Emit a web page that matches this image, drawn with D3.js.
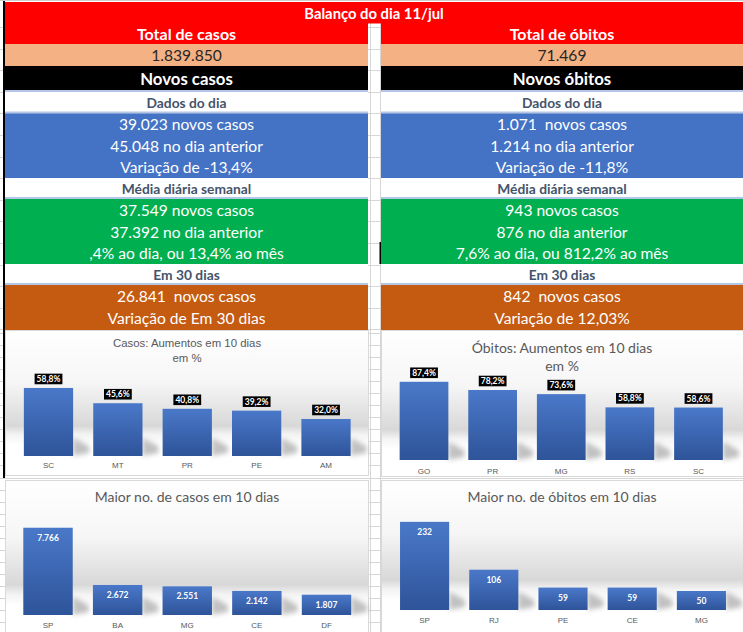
<!DOCTYPE html>
<html>
<head>
<meta charset="utf-8">
<script src="https://cdn.jsdelivr.net/npm/d3@7"></script>
<style>
  body { margin: 0; background: #fff; }
  svg { display: block; }
</style>
</head>
<body>
<svg id="chart"></svg>
<script>
// ---- data ----
const reportTitle = 'Balanço do dia 11/jul'
const totalLabels = ['Total de casos', 'Total de óbitos']
const totalValues = ['1.839.850', '71.469']
const newLabels = ['Novos casos', 'Novos óbitos']
const sectionNames = ['Dados do dia', 'Média diária semanal', 'Em 30 dias']
const dailyLines = [
  ['39.023 novos casos', '45.048 no dia anterior', 'Variação de -13,4%'],
  ['1.071  novos casos', '1.214 no dia anterior', 'Variação de -11,8%']
]
const weeklyLines = [
  ['37.549 novos casos', '37.392 no dia anterior', ',4% ao dia, ou 13,4% ao mês'],
  ['943 novos casos', '876 no dia anterior', '7,6% ao dia, ou 812,2% ao mês']
]
const monthLines = [
  ['26.841  novos casos', 'Variação de Em 30 dias'],
  ['842  novos casos', 'Variação de 12,03%']
]

const pctCasesStates = ['SC', 'MT', 'PR', 'PE', 'AM']
const pctCasesValues = [58.8, 45.6, 40.8, 39.2, 32.0]
const pctDeathsStates = ['GO', 'PR', 'MG', 'RS', 'SC']
const pctDeathsValues = [87.4, 78.2, 73.6, 58.8, 58.6]
const topCasesStates = ['SP', 'BA', 'MG', 'CE', 'DF']
const topCasesValues = [7766, 2672, 2551, 2142, 1807]
const topDeathsStates = ['SP', 'RJ', 'PE', 'CE', 'MG']
const topDeathsValues = [232, 106, 59, 59, 50]

// ---- setup ----
const W = 743
const H = 632
const FONT = 'Lato, "Open Sans", sans-serif'
const ptBR = d3.formatLocale({ decimal: ',', thousands: '.', grouping: [3], currency: ['R$', ''] })
const fmtPct = v => `${ptBR.format('.1f')(v)}%`
const fmtInt = ptBR.format(',d')

const svg = d3.select('#chart').attr('width', W).attr('height', H)
const defs = svg.append('defs')

// spreadsheet grid behind everything
const gridRows = d3.range(-5, 10).map(k => 135 + 21.6 * k).filter(y => y > 0 && y < 330)
  .concat(d3.range(-2, 24).map(k => 357 + 12.05 * k).filter(y => y > 330 && y < H))
const grid = svg.append('g').attr('stroke', '#d6d6d6').attr('stroke-width', 1)
grid.selectAll('line.h')
  .data(gridRows)
  .join('line')
  .attr('class', 'h')
  .attr('x1', 0).attr('x2', W)
  .attr('y1', d => Math.round(d) + 0.5).attr('y2', d => Math.round(d) + 0.5)
grid.selectAll('line.v')
  .data([370.5, 380.5])
  .join('line')
  .attr('class', 'v')
  .attr('x1', d => d).attr('x2', d => d)
  .attr('y1', 23).attr('y2', H)

// ---- table ----
const COLS = [{ x0: 5, x1: 368 }, { x0: 381, x1: 743 }]
const SEP = '#b4c6e7'

const bands = [
  { y0: 23, y1: 44, fill: '#ff0000' },
  { y0: 44, y1: 66, fill: '#f4b183' },
  { y0: 66, y1: 90, fill: '#000000' },
  { y0: 90, y1: 92, fill: SEP },
  { y0: 92, y1: 111.5, fill: '#ffffff' },
  { y0: 111.5, y1: 113.5, fill: SEP },
  { y0: 113.5, y1: 178, fill: '#4472c4' },
  { y0: 178, y1: 197, fill: '#ffffff' },
  { y0: 197, y1: 199, fill: SEP },
  { y0: 199, y1: 264, fill: '#00b050' },
  { y0: 264, y1: 283, fill: '#ffffff' },
  { y0: 283, y1: 285, fill: SEP },
  { y0: 285, y1: 330, fill: '#c55a11' }
]

const table = svg.append('g')
table.append('rect')
  .attr('x', 5).attr('y', 2).attr('width', W - 5).attr('height', 21.5)
  .attr('fill', '#ff0000')

table.selectAll('rect.band')
  .data(COLS.flatMap(c => bands.map(b => ({ ...b, c }))))
  .join('rect')
  .attr('class', 'band')
  .attr('x', d => d.c.x0)
  .attr('y', d => d.y0)
  .attr('width', d => d.c.x1 - d.c.x0)
  .attr('height', d => d.y1 - d.y0)
  .attr('fill', d => d.fill)

// left border + small black tick in the green block
table.append('rect').attr('x', 3).attr('y', 0).attr('width', 2).attr('height', 478).attr('fill', '#000')
table.append('rect').attr('x', 379.5).attr('y', 242).attr('width', 1.5).attr('height', 22).attr('fill', '#000')
svg.append('line').attr('x1', 0).attr('x2', W).attr('y1', 0.5).attr('y2', 0.5).attr('stroke', '#cfcfcf')

const texts = [{ x: 374, y: 12.5, t: reportTitle, size: 14.8, weight: 700, fill: '#fff' }]
COLS.forEach((c, i) => {
  const cx = (c.x0 + c.x1) / 2
  const white = (t, y) => ({ x: cx, y, t, size: 15.6, weight: 400, fill: '#fff' })
  const sect = (t, y) => ({ x: cx, y, t, size: 13.8, weight: 700, fill: '#44546a' })
  texts.push({ x: cx, y: 33.5, t: totalLabels[i], size: 16, weight: 700, fill: '#fff' })
  texts.push({ x: cx, y: 55, t: totalValues[i], size: 15.6, weight: 400, fill: '#262626' })
  texts.push({ x: cx, y: 78, t: newLabels[i], size: 16.8, weight: 700, fill: '#fff' })
  texts.push(sect(sectionNames[0], 102))
  texts.push(sect(sectionNames[1], 188.5))
  texts.push(sect(sectionNames[2], 274.5))
  dailyLines[i].forEach((t, k) => texts.push(white(t, 124 + k * 21.6)))
  weeklyLines[i].forEach((t, k) => texts.push(white(t, 210 + k * 21.7)))
  monthLines[i].forEach((t, k) => texts.push(white(t, 296 + k * 21.6)))
})

table.selectAll('text')
  .data(texts)
  .join('text')
  .attr('x', d => d.x)
  .attr('y', d => d.y)
  .attr('text-anchor', 'middle')
  .attr('dominant-baseline', 'central')
  .attr('font-family', FONT)
  .attr('font-size', d => d.size)
  .attr('font-weight', d => d.weight)
  .attr('fill', d => d.fill)
  .style('white-space', 'pre')
  .text(d => d.t)

// ---- charts ----
const barGrad = defs.append('linearGradient').attr('id', 'barFill').attr('x1', 0).attr('y1', 0).attr('x2', 0).attr('y2', 1)
barGrad.append('stop').attr('offset', '0%').attr('stop-color', '#4a78c9')
barGrad.append('stop').attr('offset', '100%').attr('stop-color', '#2e5499')

defs.append('filter').attr('id', 'soft').attr('x', '-50%').attr('y', '-50%').attr('width', '200%').attr('height', '200%')
  .append('feGaussianBlur').attr('stdDeviation', 2.8)

const charts = [
  {
    id: 'c1', states: pctCasesStates, values: pctCasesValues, box: [5, 330, 369, 476],
    title: ['Casos: Aumentos em 10 dias', 'em %'], titleY: [343, 358],
    titleFont: '"Liberation Sans", Arial, sans-serif', titleSize: 11.4,
    xRange: [13.8, 360.7], yDomain: [0, 70], yRange: [456, 375],
    fmt: fmtPct, boxed: true, tickPad: 6.3
  },
  {
    id: 'c2', states: pctDeathsStates, values: pctDeathsValues, box: [381, 330, 750, 477],
    title: ['Óbitos: Aumentos em 10 dias', 'em %'], titleY: [347, 365],
    titleFont: FONT, titleSize: 14,
    xRange: [389.7, 732.8], yDomain: [0, 100], yRange: [460, 370.5],
    fmt: fmtPct, boxed: true, tickPad: 8.3
  },
  {
    id: 'c3', states: topCasesStates, values: topCasesValues, box: [5, 480, 369, 640],
    title: ['Maior no. de casos em 10 dias'], titleY: [496],
    titleFont: FONT, titleSize: 14,
    xRange: [13.2, 361.3], yDomain: [0, 8000], yRange: [615, 525.1],
    fmt: fmtInt, boxed: false, tickPad: 7.3
  },
  {
    id: 'c4', states: topDeathsStates, values: topDeathsValues, box: [381, 480, 750, 640],
    title: ['Maior no. de óbitos em 10 dias'], titleY: [496],
    titleFont: FONT, titleSize: 14,
    xRange: [390, 736], yDomain: [0, 250], yRange: [610, 515],
    fmt: fmtInt, boxed: false, tickPad: 7.3
  }
]

charts.forEach(cfg => {
  const [bx0, by0, bx1, by1] = cfg.box
  const base = cfg.yRange[0]
  const peak = (base - 30 - by0) / (by1 - by0)

  const bg = defs.append('linearGradient').attr('id', `bg-${cfg.id}`)
    .attr('x1', 0).attr('y1', 0).attr('x2', 0).attr('y2', 1)
  ;[[0, '#ffffff'], [peak - 0.3, '#f6f6f6'], [peak, '#d8d8d8'], [peak + 0.06, '#f3f3f3'], [peak + 0.13, '#ffffff'], [1, '#ffffff']]
    .forEach(([o, c]) => bg.append('stop').attr('offset', o).attr('stop-color', c))

  const g = svg.append('g')
  g.append('rect')
    .attr('x', bx0 + 0.5).attr('y', by0 + 0.5)
    .attr('width', bx1 - bx0 - 1).attr('height', by1 - by0 - 1)
    .attr('fill', `url(#bg-${cfg.id})`)
    .attr('stroke', '#d9d9d9')

  const data = cfg.states.map((s, i) => ({ s, v: cfg.values[i] }))
  const x = d3.scaleBand().domain(cfg.states).range(cfg.xRange).paddingInner(0.29).paddingOuter(0.145)
  const y = d3.scaleLinear().domain(cfg.yDomain).range(cfg.yRange)

  g.selectAll('text.title')
    .data(cfg.title)
    .join('text')
    .attr('class', 'title')
    .attr('x', (bx0 + Math.min(bx1, W)) / 2)
    .attr('y', (d, i) => cfg.titleY[i])
    .attr('text-anchor', 'middle')
    .attr('dominant-baseline', 'central')
    .attr('font-family', cfg.titleFont)
    .attr('font-size', cfg.titleSize)
    .attr('fill', '#595959')
    .text(d => d)

  // floor shadows
  g.selectAll('path.shadow')
    .data(data)
    .join('path')
    .attr('class', 'shadow')
    .attr('d', d => {
      const xr = x(d.s) + x.bandwidth()
      return `M${xr},${base - 18}L${xr + 16},${base - 10}L${xr + 16},${base - 3}L${xr},${base}Z`
    })
    .attr('fill', '#404040')
    .attr('opacity', 0.32)
    .attr('filter', 'url(#soft)')

  g.selectAll('rect.bar')
    .data(data)
    .join('rect')
    .attr('class', 'bar')
    .attr('x', d => x(d.s))
    .attr('y', d => y(d.v))
    .attr('width', x.bandwidth())
    .attr('height', d => base - y(d.v))
    .attr('fill', 'url(#barFill)')

  const lbl = g.selectAll('g.lbl')
    .data(data)
    .join('g')
    .attr('class', 'lbl')
    .attr('transform', d => cfg.boxed
      ? `translate(${x(d.s) + x.bandwidth() / 2}, ${y(d.v) - 9})`
      : `translate(${x(d.s) + x.bandwidth() / 2}, ${y(d.v) + 10})`)

  lbl.each(function (d) {
    const gl = d3.select(this)
    const t = gl.append('text')
      .attr('text-anchor', 'middle')
      .attr('dominant-baseline', 'central')
      .attr('font-family', FONT)
      .attr('font-size', 8.5)
      .attr('font-weight', 700)
      .attr('fill', '#fff')
      .text(cfg.fmt(d.v))
    if (!cfg.boxed) return
    const bb = t.node().getBBox()
    gl.insert('rect', 'text')
      .attr('x', bb.x - 2)
      .attr('y', -5.3)
      .attr('width', bb.width + 4)
      .attr('height', 10.6)
      .attr('fill', '#000')
  })

  const axis = g.append('g')
    .attr('transform', `translate(0, ${base})`)
    .call(d3.axisBottom(x).tickSize(0).tickPadding(cfg.tickPad))
  axis.select('.domain').remove()
  axis.selectAll('text')
    .attr('font-family', '"Liberation Sans Narrow", "Liberation Sans", sans-serif')
    .attr('font-size', 8)
    .attr('fill', '#595959')
})
</script>
</body>
</html>
